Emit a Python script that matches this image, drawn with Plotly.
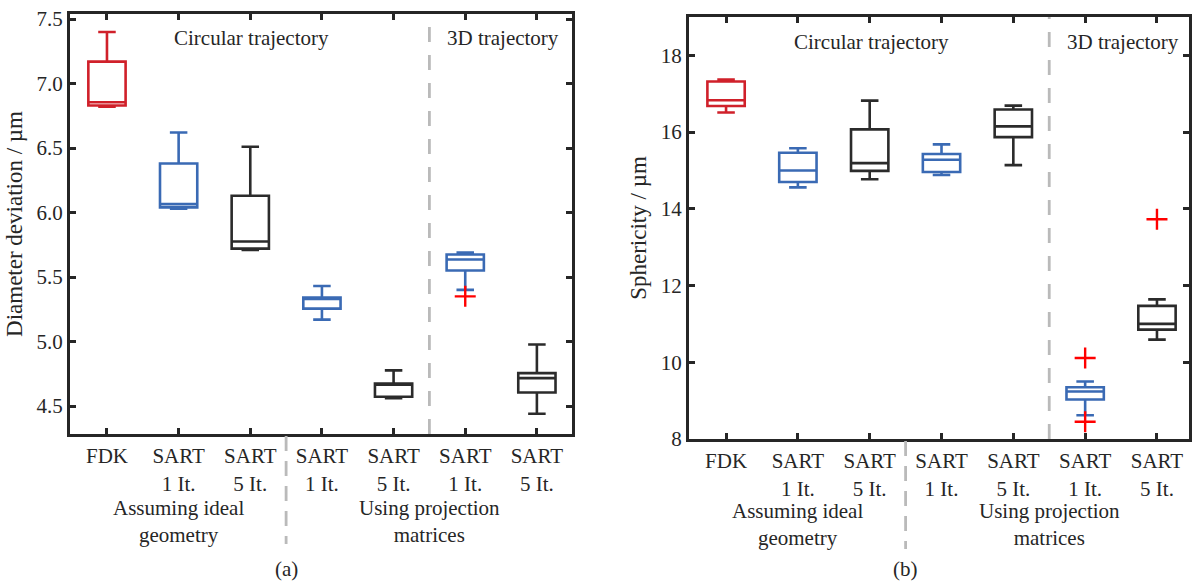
import plotly.graph_objects as go

# Category positions and labels shared by both panels
positions = [1, 2, 3, 4, 5, 6, 7]
tick_labels = ["FDK", "SART<br>1 It.", "SART<br>5 It.", "SART<br>1 It.",
               "SART<br>5 It.", "SART<br>1 It.", "SART<br>5 It."]
box_colors = ["#d0202a", "#3a6ab4", "#2b2b2b", "#3a6ab4", "#2b2b2b", "#3a6ab4", "#2b2b2b"]

# (a) Diameter deviation / µm — box statistics per method
diam_lower = [6.82, 6.03, 5.71, 5.17, 4.56, 5.40, 4.44]
diam_q1 = [6.83, 6.04, 5.72, 5.255, 4.572, 5.55, 4.605]
diam_median = [6.855, 6.065, 5.775, 5.33, 4.665, 5.636, 4.716]
diam_q3 = [7.17, 6.38, 6.13, 5.34, 4.675, 5.675, 4.755]
diam_upper = [7.40, 6.62, 6.51, 5.43, 4.776, 5.69, 4.977]
diam_outlier_x = [6]
diam_outlier_y = [5.35]

# (b) Sphericity / µm — box statistics per method
sph_lower = [16.51, 14.56, 14.77, 14.88, 15.14, 8.62, 10.59]
sph_q1 = [16.68, 14.70, 14.99, 14.96, 15.87, 9.03, 10.85]
sph_median = [16.83, 15.00, 15.19, 15.28, 16.15, 9.24, 11.00]
sph_q3 = [17.32, 15.46, 16.07, 15.43, 16.59, 9.35, 11.47]
sph_upper = [17.37, 15.58, 16.82, 15.68, 16.69, 9.50, 11.64]
sph_outlier_x = [6, 6, 7]
sph_outlier_y = [10.11, 8.45, 13.73]

FONT = "Liberation Serif"
TXT = "#262626"
FS = 21

fig = go.Figure()


def add_panel(xa, ya, lower, q1, med, q3, upper, ox, oy):
    for i, p in enumerate(positions):
        fig.add_trace(go.Box(
            x=[p], q1=[q1[i]], median=[med[i]], q3=[q3[i]],
            lowerfence=[lower[i]], upperfence=[upper[i]],
            width=0.52, whiskerwidth=0.47,
            line=dict(color=box_colors[i], width=2.6),
            fillcolor="rgba(255,255,255,0)",
            boxpoints=False, hoverinfo="skip",
            xaxis=xa, yaxis=ya, showlegend=False,
        ))
    fig.add_trace(go.Scatter(
        x=ox, y=oy, mode="markers",
        marker=dict(symbol="cross-thin", size=15, line=dict(color="#ff0000", width=2.4)),
        xaxis=xa, yaxis=ya, showlegend=False, hoverinfo="skip",
    ))


add_panel("x", "y", diam_lower, diam_q1, diam_median, diam_q3, diam_upper,
          diam_outlier_x, diam_outlier_y)
add_panel("x2", "y2", sph_lower, sph_q1, sph_median, sph_q3, sph_upper,
          sph_outlier_x, sph_outlier_y)

W, H = 1192, 585

axis_common = dict(
    showline=True, linecolor=TXT, linewidth=3, mirror="allticks",
    ticks="inside", ticklen=6, tickwidth=3, tickcolor=TXT,
    showgrid=False, zeroline=False, automargin=False,
    tickfont=dict(family=FONT, size=FS, color=TXT),
)

fig.update_layout(
    width=W, height=H,
    margin=dict(l=0, r=0, t=0, b=0, pad=0),
    paper_bgcolor="white", plot_bgcolor="white",
    font=dict(family=FONT, size=FS, color=TXT),
    xaxis=dict(domain=[70 / W, 572 / W], range=[0.484, 7.49],
               tickvals=positions, ticktext=tick_labels, anchor="y",
               ticklabelstandoff=1, **axis_common),
    yaxis=dict(domain=[1 - 434 / H, 1 - 14 / H], range=[4.283, 7.539],
               tickvals=[4.5, 5.0, 5.5, 6.0, 6.5, 7.0, 7.5], tickformat=".1f",
               title=dict(text="Diameter deviation / µm", font=dict(family=FONT, size=23, color=TXT),
                          standoff=8),
               anchor="x", **axis_common),
    xaxis2=dict(domain=[689 / W, 1189 / W], range=[0.484, 7.446],
                tickvals=positions, ticktext=tick_labels, anchor="y2",
                ticklabelstandoff=1, **axis_common),
    yaxis2=dict(domain=[1 - 439 / H, 1 - 17 / H], range=[8, 19],
                tickvals=[8, 10, 12, 14, 16, 18],
                title=dict(text="Sphericity / µm", font=dict(family=FONT, size=23, color=TXT),
                           standoff=8),
                anchor="x2", **axis_common),
)

# Dashed separator between circular and 3D trajectory groups
for xr, yr in [("x", "y"), ("x2", "y2")]:
    fig.add_shape(type="line", xref=xr, yref=yr + " domain", x0=5.5, x1=5.5, y0=0, y1=1,
                  line=dict(color="#bababa", width=2.8, dash="15px,13px"), layer="below")

# Separator below the axis between geometry groups
for xr, ytop in [("x", 436), ("x2", 441)]:
    fig.add_shape(type="line", xref=xr, yref="paper", x0=3.5, x1=3.5,
                  y0=1 - ytop / H, y1=1 - (ytop + 108) / H,
                  line=dict(color="#bababa", width=2.8, dash="15px,10px"))


def label(text, x, ypix, xref):
    return dict(text=text, x=x, y=1 - ypix / H, xref=xref, yref="paper",
                xanchor="center", yanchor="middle", showarrow=False,
                font=dict(family=FONT, size=FS, color=TXT))


ann = []
for xr, ytxt, ygrp, ycap in [("x", 38, 521, "(a)"), ("x2", 42, 524, "(b)")]:
    ann.append(label("Circular trajectory", 3.02, ytxt, xr))
    ann.append(label("3D trajectory", 6.53, ytxt, xr))
    ann.append(label("Assuming ideal<br>geometry", 2, ygrp, xr))
    ann.append(label("Using projection<br>matrices", 5.5, ygrp, xr))
    ann.append(label(ycap, 3.5, 569, xr))
fig.update_layout(annotations=ann)

fig.write_html("out.html")
